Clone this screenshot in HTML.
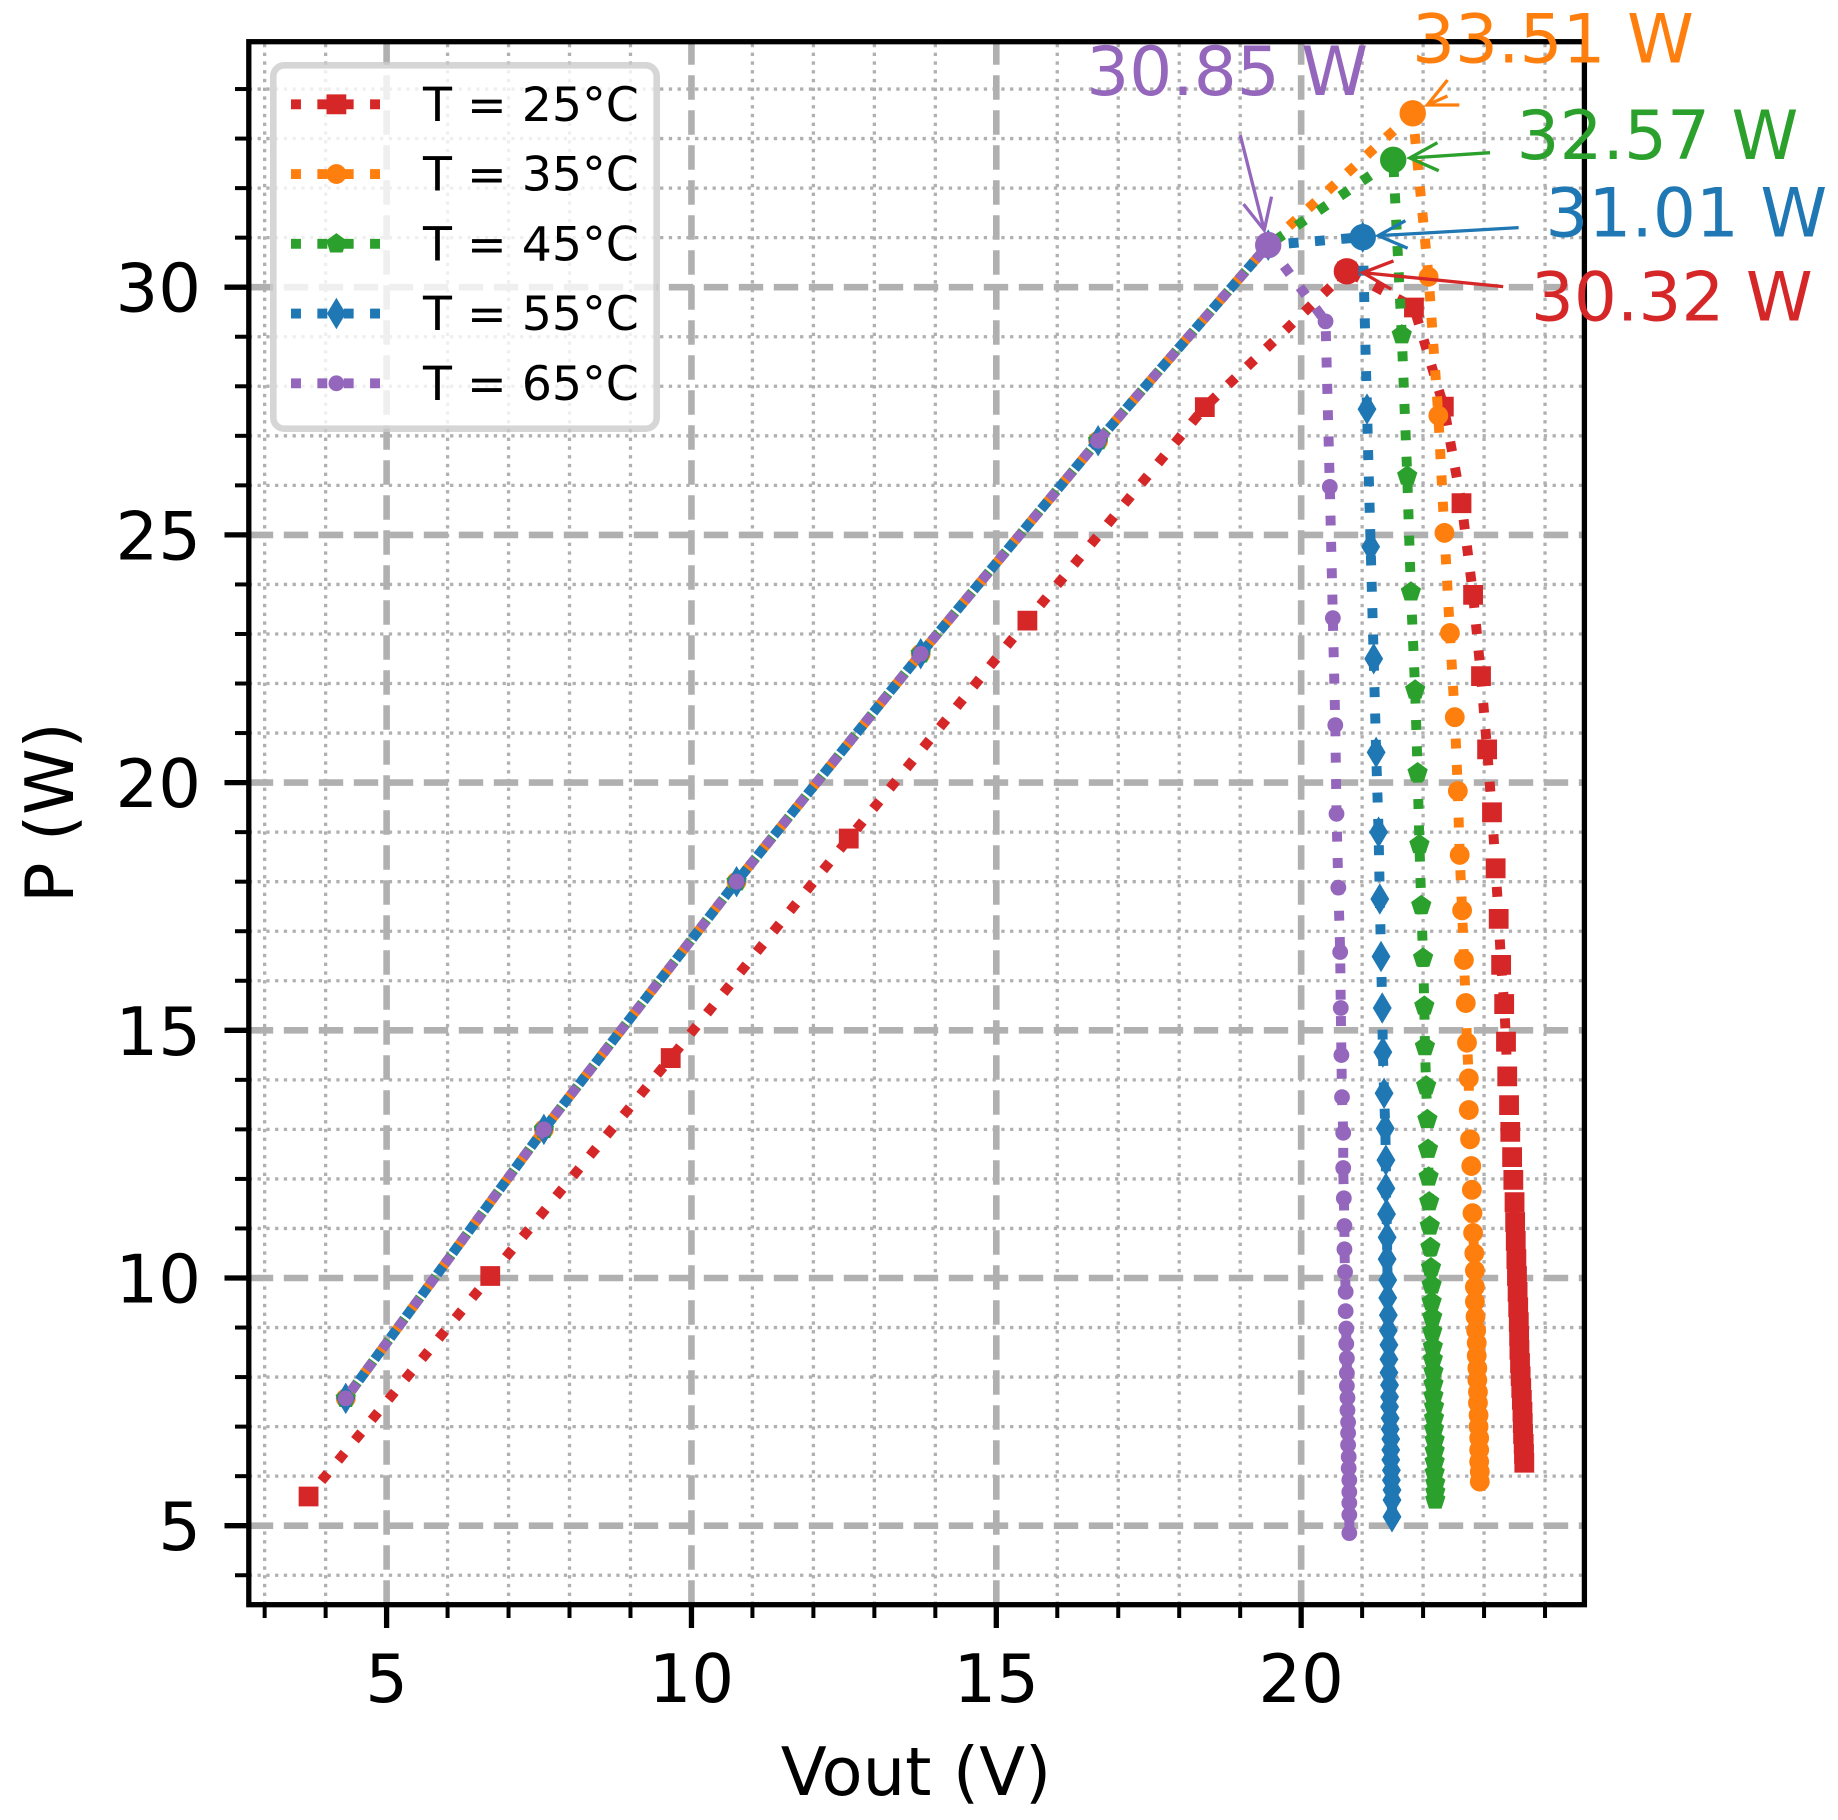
<!DOCTYPE html>
<html lang="en">
<head>
<meta charset="utf-8">
<title>P vs Vout at several temperatures</title>
<style>
html,body{margin:0;padding:0;background:#fff;}
svg{display:block;font-family:"DejaVu Sans","Liberation Sans",sans-serif;}
</style>
</head>
<body>
<svg id="chart" xmlns="http://www.w3.org/2000/svg" width="1838" height="1820" viewBox="0 0 1838 1820">
  <defs><clipPath id="plot-clip"><rect x="248.8" y="41.7" width="1335.6" height="1563"/></clipPath></defs>
  <rect x="0" y="0" width="1838" height="1820" fill="#fff"/>
  <g id="grid"></g>
  <g id="series" clip-path="url(#plot-clip)"></g>
  <g id="axes"></g>
  <text x="916" y="1795" font-size="67.2" text-anchor="middle" fill="#000">Vout (V)</text>
  <text transform="translate(73 903) rotate(-90)" font-size="67.2" fill="#000">P (W)</text>
  <g id="annotations"></g>
  <g id="legend"></g>
</svg>
<script>
const xTicksMajor = [5, 10, 15, 20];
const yTicksMajor = [5, 10, 15, 20, 25, 30];
const xTicksMinor = [3, 4, 6, 7, 8, 9, 11, 12, 13, 14, 16, 17, 18, 19, 21, 22, 23, 24];
const yTicksMinor = [4, 6, 7, 8, 9, 11, 12, 13, 14, 16, 17, 18, 19, 21, 22, 23, 24, 26, 27, 28, 29, 31, 32, 33, 34];

const seriesLabels = ['T = 25°C', 'T = 35°C', 'T = 45°C', 'T = 55°C', 'T = 65°C'];

const vout25 = [3.72,6.70,9.66,12.58,15.51,18.42,20.75,21.85,22.34,22.63,22.82,22.95,23.05,23.13,23.19,23.24,23.28,23.33,23.36,23.38,23.41,23.43,23.46,23.48,23.50,23.51,23.52,23.53,23.54,23.55,23.56,23.57,23.575,23.58,23.59,23.60,23.61,23.62,23.63,23.635,23.64,23.65,23.655,23.66];
const power25 = [5.59,10.04,14.44,18.87,23.27,27.58,30.32,29.59,27.59,25.64,23.79,22.15,20.67,19.4,18.27,17.25,16.32,15.53,14.77,14.07,13.49,12.95,12.44,11.98,11.53,11.13,10.75,10.38,10.04,9.72,9.41,9.11,8.83,8.55,8.28,8.02,7.78,7.54,7.30,7.07,6.85,6.65,6.45,6.27];

const vout35 = [4.33,7.58,10.74,13.76,16.67,19.46,21.83,22.09,22.25,22.35,22.44,22.52,22.57,22.60,22.64,22.67,22.70,22.72,22.75,22.75,22.77,22.79,22.80,22.81,22.82,22.84,22.85,22.85,22.85,22.86,22.87,22.88,22.88,22.89,22.89,22.90,22.90,22.91,22.91,22.92,22.92,22.92,22.93,22.93];
const power35 = [7.57,13.0,18.0,22.6,26.9,30.85,33.51,30.21,27.41,25.04,23.02,21.32,19.83,18.54,17.42,16.42,15.55,14.75,14.03,13.39,12.80,12.26,11.78,11.31,10.91,10.50,10.15,9.82,9.52,9.22,8.94,8.69,8.43,8.18,7.94,7.70,7.48,7.23,7.00,6.77,6.53,6.29,6.09,5.89];

const vout45 = [4.33,7.58,10.74,13.76,16.67,19.46,21.51,21.65,21.74,21.80,21.87,21.91,21.94,21.97,22.00,22.02,22.03,22.05,22.07,22.08,22.09,22.10,22.11,22.12,22.13,22.14,22.14,22.15,22.15,22.16,22.16,22.17,22.17,22.17,22.18,22.18,22.18,22.19,22.19,22.19,22.19,22.20,22.20,22.20];
const power45 = [7.57,13.0,18.0,22.6,26.9,30.85,32.57,29.04,26.19,23.85,21.87,20.20,18.75,17.52,16.46,15.49,14.67,13.88,13.20,12.60,12.04,11.54,11.05,10.62,10.21,9.86,9.52,9.21,8.92,8.61,8.36,8.11,7.86,7.62,7.40,7.17,6.95,6.73,6.51,6.29,6.07,5.86,5.68,5.52];

const vout55 = [4.33,7.58,10.74,13.76,16.67,19.46,21.01,21.08,21.14,21.19,21.23,21.27,21.29,21.31,21.33,21.34,21.36,21.38,21.39,21.39,21.40,21.41,21.41,21.42,21.42,21.43,21.43,21.44,21.44,21.44,21.45,21.45,21.45,21.46,21.46,21.47,21.47,21.47,21.48,21.48,21.49,21.49,21.49];
const power55 = [7.57,13.0,18.0,22.6,26.9,30.85,31.01,27.54,24.76,22.50,20.61,19.0,17.65,16.49,15.45,14.56,13.73,13.02,12.38,11.81,11.29,10.82,10.38,9.96,9.60,9.25,8.94,8.65,8.36,8.09,7.84,7.60,7.40,7.17,6.95,6.75,6.53,6.33,6.12,5.92,5.72,5.52,5.18];

const vout65 = [4.33,7.58,10.74,13.76,16.67,19.46,20.40,20.47,20.52,20.56,20.58,20.61,20.64,20.65,20.66,20.67,20.69,20.69,20.70,20.71,20.71,20.72,20.73,20.73,20.74,20.74,20.75,20.75,20.75,20.76,20.76,20.77,20.77,20.77,20.78,20.78,20.79,20.79,20.79,20.79,20.79];
const power65 = [7.57,13.0,18.0,22.6,26.9,30.85,29.31,25.97,23.32,21.16,19.37,17.88,16.58,15.45,14.50,13.65,12.93,12.22,11.61,11.05,10.58,10.12,9.72,9.33,8.98,8.67,8.38,8.08,7.82,7.58,7.33,7.09,6.87,6.63,6.39,6.16,5.92,5.68,5.46,5.22,4.85];

const SVGNS = 'http://www.w3.org/2000/svg';
const X0 = 386.6, XK = 60.97, Y0 = 1525.7, YK = 49.54;
const LEFT = 248.8, RIGHT = 1584.4, TOP = 41.7, BOTTOM = 1604.7;
const DOT_ON = 9.95, DOT_OFF = 16.4, DOT_PERIOD = DOT_ON + DOT_OFF;
const xScale = v => X0 + (v - 5) * XK;
const yScale = p => Y0 - (p - 5) * YK;

function make(parent, tag, attrs) {
  const el = document.createElementNS(SVGNS, tag);
  for (const k in attrs) el.setAttribute(k, attrs[k]);
  parent.appendChild(el);
  return el;
}

// Dash phase: places a dot centre where the polyline crosses a given pixel coordinate.
function dashPhase(pts, axis, at) {
  let s = 0;
  for (let i = 1; i < pts.length; i++) {
    const a = pts[i - 1], b = pts[i];
    const len = Math.hypot(b[0] - a[0], b[1] - a[1]);
    const lo = Math.min(a[axis], b[axis]), hi = Math.max(a[axis], b[axis]);
    if (at >= lo && at <= hi && hi > lo) {
      s += len * (at - a[axis]) / (b[axis] - a[axis]);
      break;
    }
    s += len;
  }
  const t0 = s - DOT_ON / 2;
  return ((-t0 % DOT_PERIOD) + DOT_PERIOD) % DOT_PERIOD;
}

const gridG = document.getElementById('grid');
const axesG = document.getElementById('axes');
const seriesG = document.getElementById('series');
const annG = document.getElementById('annotations');
const legendG = document.getElementById('legend');

const minorGrid = {stroke: '#b0b0b0', 'stroke-width': 3.3, 'stroke-dasharray': '3.3 5.45', fill: 'none'};
const majorGrid = {stroke: '#b0b0b0', 'stroke-width': 6.6, 'stroke-dasharray': '24.4 10.6', fill: 'none'};

function vLine(v, style) {
  return make(gridG, 'line', Object.assign({x1: xScale(v), x2: xScale(v), y1: BOTTOM, y2: TOP}, style));
}
function hLine(p, style) {
  return make(gridG, 'line', Object.assign({x1: LEFT, x2: RIGHT, y1: yScale(p), y2: yScale(p)}, style));
}

xTicksMinor.forEach(v => {
  const g = vLine(v, minorGrid);
  
  
  const t = make(axesG, 'line', {x1: xScale(v), x2: xScale(v), y1: BOTTOM, y2: 1618, stroke: '#000', 'stroke-width': 4});
  
  
});
yTicksMinor.forEach(p => {
  const g = hLine(p, minorGrid);
  
  
  const t = make(axesG, 'line', {x1: 235, x2: LEFT, y1: yScale(p), y2: yScale(p), stroke: '#000', 'stroke-width': 4});
  
  
});
xTicksMajor.forEach(v => {
  const g = vLine(v, majorGrid);
  
  
  const t = make(axesG, 'line', {x1: xScale(v), x2: xScale(v), y1: BOTTOM, y2: 1628, stroke: '#000', 'stroke-width': 5.3});
  
  
  const l = make(axesG, 'text', {x: xScale(v), y: 1702, 'font-size': 67.2, 'text-anchor': 'middle', fill: '#000'});
  
  
  l.textContent = String(v);
});
yTicksMajor.forEach(p => {
  const g = hLine(p, majorGrid);
  
  
  const t = make(axesG, 'line', {x1: 224.5, x2: LEFT, y1: yScale(p), y2: yScale(p), stroke: '#000', 'stroke-width': 5.3});
  
  
  const l = make(axesG, 'text', {x: 201, y: yScale(p) + 24.5, 'font-size': 67.2, 'text-anchor': 'end', fill: '#000'});
  
  
  l.textContent = String(p);
});
const frame = make(axesG, 'rect', {x: LEFT, y: TOP, width: RIGHT - LEFT, height: BOTTOM - TOP, fill: 'none', stroke: '#000', 'stroke-width': 5.3});



const pentagon = [0, 1, 2, 3, 4].map(k => {
  const a = (-90 + 72 * k) * Math.PI / 180;
  return (6.6 * Math.cos(a)).toFixed(2) + ',' + (6.6 * Math.sin(a)).toFixed(2);
}).join(' ');

function drawMarker(parent, kind, cx, cy, color) {
  const common = {fill: color, stroke: color, 'stroke-width': 6.6, 'stroke-linejoin': 'miter', 'stroke-miterlimit': 10};
  const tr = 'translate(' + cx + ' ' + cy + ')';
  if (kind === 'square') return make(parent, 'polygon', Object.assign({points: '-6.6,-6.6 6.6,-6.6 6.6,6.6 -6.6,6.6', transform: tr}, common));
  if (kind === 'circle') return make(parent, 'circle', Object.assign({cx: cx, cy: cy, r: 6.6}, common));
  if (kind === 'pentagon') return make(parent, 'polygon', Object.assign({points: pentagon, transform: tr}, common));
  if (kind === 'thin-diamond') return make(parent, 'polygon', Object.assign({points: '0,-9.33 5.6,0 0,9.33 -5.6,0', transform: tr}, common));
  return make(parent, 'circle', Object.assign({cx: cx, cy: cy, r: 4.6}, common));
}

const seriesStyle = [
  {key: '25', v: vout25, p: power25, color: '#d62728', marker: 'square', riseDotX: 1289, fallDotY: 547.8,
   text: [184, 49.3], tip: [15.9, 1.3], tail: [156.3, 15.3], barbA: [46.6, -10.4], barbB: [44.4, 17.9]},
  {key: '35', v: vout35, p: power35, color: '#ff7f0e', marker: 'circle', riseDotX: 1351, fallDotY: 591.8,
   text: [-0.7, -50.6], tip: [14.6, -8.3], tail: [34.8, -17.3], barbA: [46.6, -8.3], barbB: [34.8, -33.3]},
  {key: '45', v: vout45, p: power45, color: '#2ca02c', marker: 'pentagon', riseDotX: 1344.4, fallDotY: 636.6,
   text: [123.3, -0.9], tip: [16.6, -1.9], tail: [96.8, -7.2], barbA: [44.2, -17.2], barbB: [45.5, 10.8]},
  {key: '55', v: vout55, p: power55, color: '#1f77b4', marker: 'thin-diamond', riseDotX: 1215.8, fallDotY: 627,
   text: [182.7, -0.5], tip: [15.5, -1.5], tail: [155.9, -9.5], barbA: [42.7, -16.5], barbB: [44.9, 11.1]},
  {key: '65', v: vout65, p: power65, color: '#9467bd', marker: 'octagon', riseDotX: 1207, fallDotY: 589.6,
   text: [-182, -150], tip: [-4, -15], tail: [-28, -110], barbA: [-24.7, -41], barbB: [3.3, -48.4]}
];

const fmt = q => q[0].toFixed(2) + ',' + q[1].toFixed(2);

seriesStyle.forEach(s => {
  const g = make(seriesG, 'g', {});
  
  

  const pts = s.v.map((v, i) => [xScale(v), yScale(s.p[i])]);
  const maxP = Math.max.apply(null, s.p);
  const peakIndex = s.p.indexOf(maxP);
  const maxV = s.v[peakIndex];
  const risePts = pts.slice(0, peakIndex + 1);
  const fallPts = pts.slice(peakIndex);

  const riseLine = make(g, 'polyline', {
    points: risePts.map(fmt).join(' '),
    fill: 'none', stroke: s.color, 'stroke-width': DOT_ON,
    'stroke-dasharray': DOT_ON + ' ' + DOT_OFF, 'stroke-dashoffset': dashPhase(risePts, 0, s.riseDotX).toFixed(2)
  });
  
  

  const fallLine = make(g, 'polyline', {
    points: fallPts.map(fmt).join(' '),
    fill: 'none', stroke: s.color, 'stroke-width': DOT_ON,
    'stroke-dasharray': DOT_ON + ' ' + DOT_OFF, 'stroke-dashoffset': dashPhase(fallPts.slice(1), 1, s.fallDotY).toFixed(2)
  });
  
  

  pts.forEach(q => {
    const m = drawMarker(g, s.marker, q[0].toFixed(2), q[1].toFixed(2), s.color);
    
    
  });

  const px = xScale(maxV), py = yScale(maxP);
  const peak = make(g, 'circle', {cx: px, cy: py, r: 9.9, fill: s.color, stroke: s.color, 'stroke-width': 6.6});
  
  

  const tipX = px + s.tip[0], tipY = py + s.tip[1];
  const d = 'M' + (px + s.tail[0]) + ' ' + (py + s.tail[1]) + 'L' + tipX + ' ' + tipY +
            'M' + (px + s.barbA[0]) + ' ' + (py + s.barbA[1]) + 'L' + tipX + ' ' + tipY +
            'L' + (px + s.barbB[0]) + ' ' + (py + s.barbB[1]);
  const arrow = make(annG, 'path', {d: d, fill: 'none', stroke: s.color, 'stroke-width': 3.3, 'stroke-linecap': 'butt', 'stroke-linejoin': 'miter'});
  
  

  const label = make(annG, 'text', {x: px + s.text[0], y: py + s.text[1], 'font-size': 67.6, fill: s.color});
  
  
  label.textContent = maxP.toFixed(2) + ' W';
});

const legendFrame = make(legendG, 'rect', {x: 273.3, y: 65.3, width: 383.4, height: 363.4, rx: 11, ry: 11, fill: 'rgba(255,255,255,0.8)', stroke: 'rgba(204,204,204,0.8)', 'stroke-width': 6.6});



seriesStyle.forEach((s, i) => {
  const cy = 104.3 + i * 69.75;
  const row = make(legendG, 'g', {});
  
  
  const handle = make(row, 'line', {x1: 291, x2: 381.7, y1: cy, y2: cy, stroke: s.color, 'stroke-width': DOT_ON, 'stroke-dasharray': DOT_ON + ' ' + DOT_OFF});
  
  
  const m = drawMarker(row, s.marker, 336.4, cy, s.color);
  
  
  const t = make(row, 'text', {x: 423, y: cy + 16.6, 'font-size': 47.4, fill: '#000'});
  
  
  t.textContent = seriesLabels[i];
});
</script>
</body>
</html>
